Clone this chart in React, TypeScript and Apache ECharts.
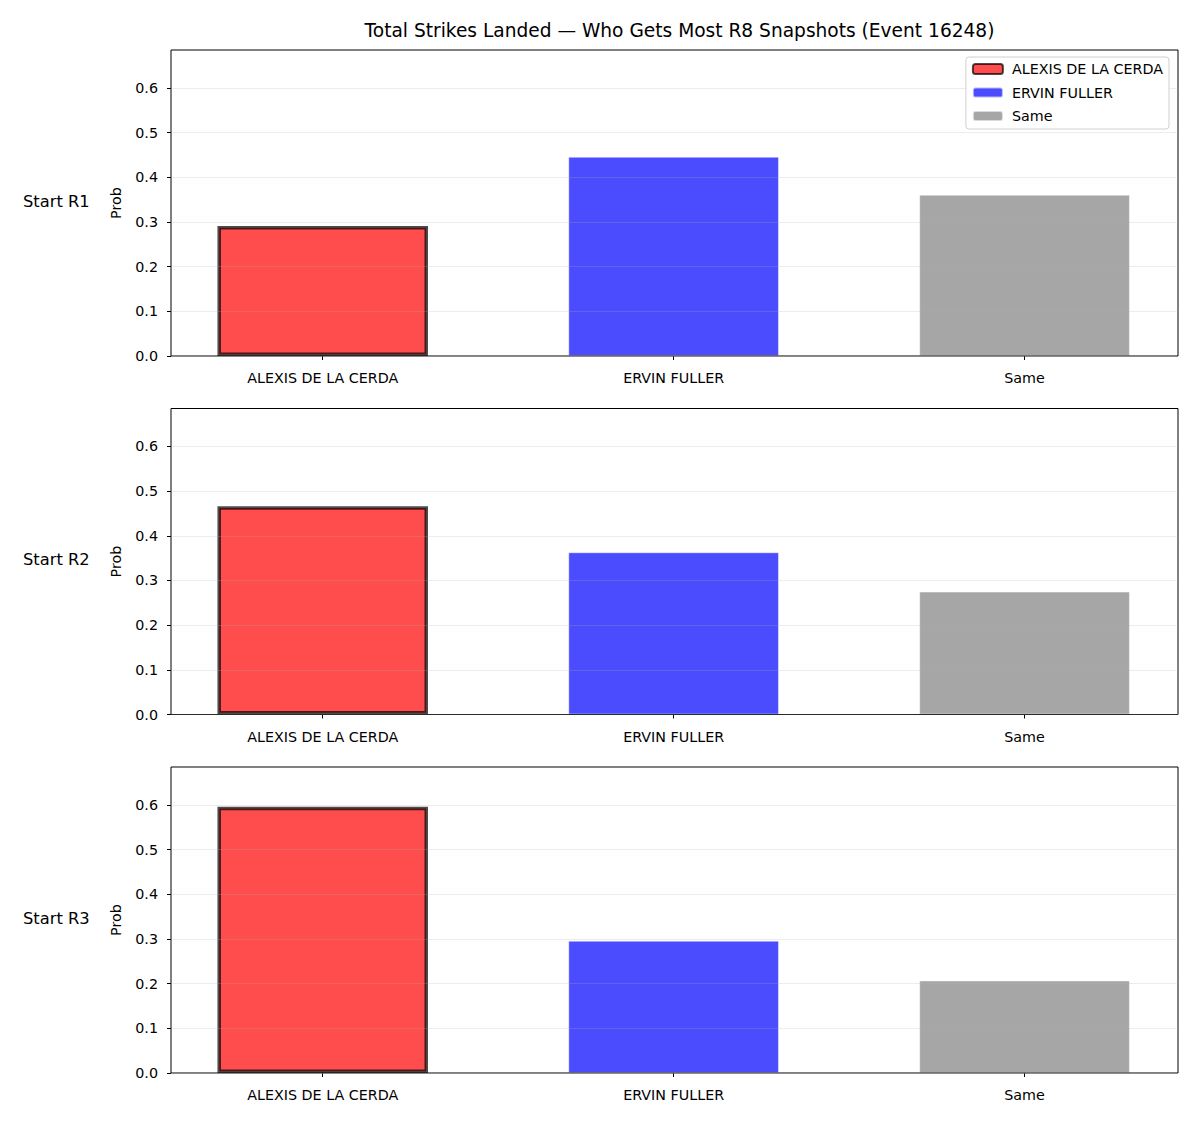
import React, { useEffect, useRef } from "react";
import * as echarts from "echarts";

const categories = ["ALEXIS DE LA CERDA", "ERVIN FULLER", "Same"];
const rowLabels = ["Start R1", "Start R2", "Start R3"];
const startR1 = [0.291, 0.446, 0.361];
const startR2 = [0.466, 0.363, 0.275];
const startR3 = [0.596, 0.296, 0.207];
const panels = [startR1, startR2, startR3];
const yTicks = [0, 0.1, 0.2, 0.3, 0.4, 0.5, 0.6];
const yMax = 0.685;
const titleText = "Total Strikes Landed — Who Gets Most R8 Snapshots (Event 16248)";

const barColors = ["rgba(255,0,0,0.7)", "rgba(0,0,255,0.7)", "rgba(128,128,128,0.7)"];
const FONT = "DejaVu Sans";
const TICK_FS = 14.3;

export default function App() {
  const ref = useRef<HTMLDivElement>(null);
  useEffect(() => {
    if (!ref.current) return;
    const chart = echarts.init(ref.current, null, { renderer: "svg" });
    const panelTops = [50, 408.5, 767];
    const panelH = 306;
    const frameLeft = 171;
    const frameW = 1007;
    const band = frameW / 2.865; // category band width
    const barGridLeft = frameLeft + 0.4325 * band - band / 2;
    const barGridW = band * 3;

    const grid: any[] = [];
    const xAxis: any[] = [];
    const yAxis: any[] = [];
    const series: any[] = [];
    const graphic: any[] = [];

    panels.forEach((vals, p) => {
      const top = panelTops[p];
      grid.push({
        left: frameLeft, top, width: frameW, height: panelH,
        show: true, borderColor: "#000", borderWidth: 1, backgroundColor: "transparent", z: 4,
      });
      grid.push({ left: barGridLeft, top, width: barGridW, height: panelH, show: false });

      xAxis.push({ type: "value", gridIndex: 2 * p, show: false, min: 0, max: 1 });
      xAxis.push({
        type: "category", gridIndex: 2 * p + 1, data: categories,
        axisLine: { show: false },
        axisTick: { show: true, alignWithLabel: true, length: 4, lineStyle: { color: "#000", width: 1 } },
        axisLabel: { color: "#000", fontFamily: FONT, fontSize: TICK_FS, margin: 15 },
        splitLine: { show: false },
      });
      yAxis.push({
        type: "value", gridIndex: 2 * p, min: 0, max: yMax, interval: 0.1,
        z: 5,
        name: "Prob", nameLocation: "middle", nameGap: 48, nameRotate: 90,
        nameTextStyle: { color: "#000", fontFamily: FONT, fontSize: TICK_FS },
        axisLine: { show: false },
        axisTick: { show: true, length: 4, customValues: yTicks, lineStyle: { color: "#000" } },
        axisLabel: {
          color: "#000", fontFamily: FONT, fontSize: TICK_FS, margin: 13,
          customValues: yTicks,
          formatter: (v: number) => v.toFixed(1),
        },
        splitLine: { show: true, lineStyle: { color: "rgba(176,176,176,0.3)", width: 0.8 } },
      });
      yAxis.push({ type: "value", gridIndex: 2 * p + 1, min: 0, max: yMax, show: false, splitLine: { show: false } });

      categories.forEach((name, c) => {
        const data = categories.map((_, k) => (k === c ? vals[k] : "-"));
        const isWinner = c === 0;
        series.push({
          type: "bar", name, xAxisIndex: 2 * p + 1, yAxisIndex: 2 * p + 1,
          data, barWidth: "60%", barGap: "-100%", z: 2,
          itemStyle: isWinner
            ? { color: barColors[c], borderColor: "rgba(0,0,0,0.7)", borderWidth: 3.5 }
            : { color: barColors[c], borderColor: "rgba(255,255,255,0.6)", borderWidth: 0.8 },
        });
      });

      graphic.push({
        type: "text", left: 23, top: top + panelH / 2 - 10,
        style: { text: rowLabels[p], fill: "#000", font: `16.3px "${FONT}"` },
      });
    });

    chart.setOption({
      animation: false,
      backgroundColor: "#fff",
      title: {
        text: titleText, left: 674.5, top: 16, textAlign: "center",
        textStyle: { fontFamily: FONT, fontSize: 18.6, fontWeight: "normal", color: "#000" },
      },
      legend: {
        data: categories, orient: "vertical", right: 31, top: 57,
        itemWidth: 30, itemHeight: 10, itemGap: 9.5,
        padding: [5, 6, 6, 6],
        backgroundColor: "#fff", borderColor: "#d0d0d0", borderWidth: 1, borderRadius: 3,
        textStyle: { fontFamily: FONT, fontSize: TICK_FS, color: "#000", padding: [0, 0, 0, 4] },
        selectedMode: false, z: 10,
      },
      grid, xAxis, yAxis, series, graphic,
    });
    return () => chart.dispose();
  }, []);
  return (
    <div
      ref={ref}
      style={{ position: "absolute", left: 0, top: 0, width: 1200, height: 1125 }}
    />
  );
}
